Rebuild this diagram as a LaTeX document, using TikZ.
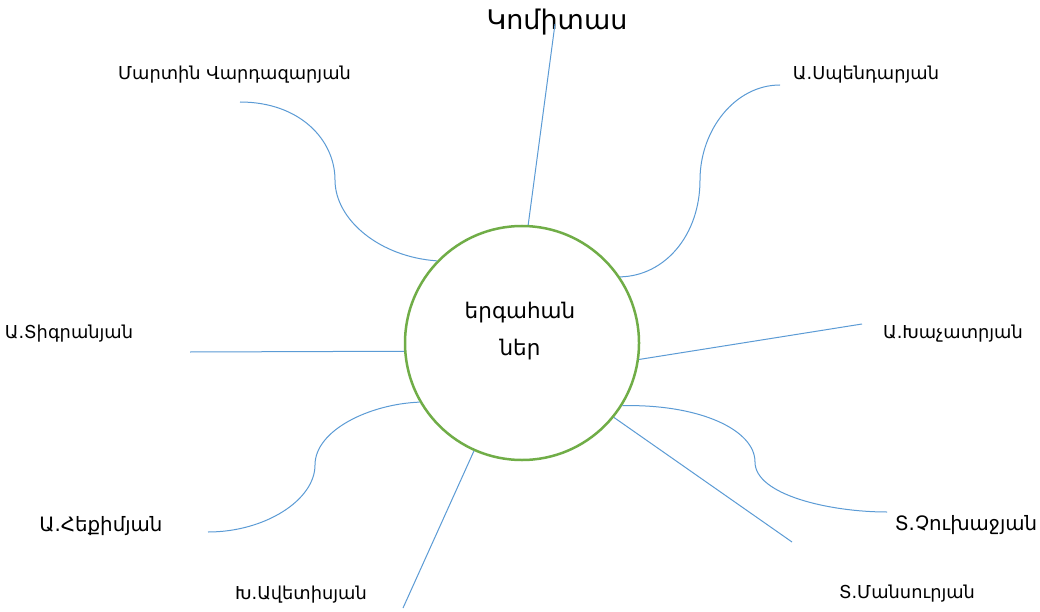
\documentclass[tikz,border=0pt]{standalone}
\usepackage{fontspec}
\setmainfont{DejaVu Sans}
\begin{document}
\begin{tikzpicture}[x=1pt,y=-1pt,
  lbl/.style={inner sep=0pt,font=\fontsize{17.8}{20}\selectfont},
  lblb/.style={inner sep=0pt,font=\fontsize{19.8}{22}\selectfont},
  conn/.style={draw={rgb,255:red,91;green,155;blue,213},line width=1pt},
  hub/.style={circle,draw={rgb,255:red,112;green,173;blue,71},line width=2.5pt,minimum size=234pt,inner sep=0pt},
  hubtext/.style={inner sep=0pt,align=center,font=\fontsize{21.5}{37}\selectfont}]
\fill[white] (0,0) rectangle (1040,612);
\useasboundingbox (0,0) rectangle (1040,612);
\node[hub] (c) at (522,343) {};
\node[hubtext] (ct) at (520,331) {երգահան\\ներ};
\coordinate (ke) at (555,24);
\coordinate (vde) at (240,102);
\coordinate (spe) at (780,85);
\coordinate (tge) at (190,352);
\coordinate (khe) at (862,324);
\coordinate (hke) at (208,532);
\coordinate (ave) at (403,608);
\coordinate (che) at (887,512);
\coordinate (mne) at (792,542);
\node[inner sep=0pt,font=\fontsize{27}{30}\selectfont] (k) at (557,22) {Կոմիտաս};
\node[lbl] (vd) at (234.5,75) {Մարտին Վարդազարյան};
\node[lbl] (sp) at (866,75) {Ա.Սպենդարյան};
\node[lbl] (tg) at (69,334) {Ա.Տիգրանյան};
\node[lbl] (kh) at (953,334) {Ա.Խաչատրյան};
\node[lblb] (hk) at (101,526) {Ա.Հեքիմյան};
\node[lbl] (av) at (301,595) {Խ.Ավետիսյան};
\node[lblb] (ch) at (966,525) {Տ.Չուխաջյան};
\node[lbl] (mn) at (907,594) {Տ.Մանսուրյան};
\draw[conn] (c.87) -- (ke);
\draw[conn] (c.136) .. controls (380,257) and (335,220) .. (335,180) .. controls (335,140) and (300,102) .. (vde);
\draw[conn] (c.34) .. controls (665,276) and (700,235) .. (700,180) .. controls (700,130) and (735,85) .. (spe);
\draw[conn] (c.184) -- (tge);
\draw[conn] (c.352) -- (khe);
\draw[conn] (c.210) .. controls (370,404) and (315,430) .. (315,465) .. controls (315,500) and (265,532) .. (hke);
\draw[conn] (c.246) -- (ave);
\draw[conn] (c.328) .. controls (700,404) and (755,430) .. (755,462) .. controls (755,495) and (830,512) .. (che);
\draw[conn] (c.321) -- (mne);
\end{tikzpicture}
\end{document}
